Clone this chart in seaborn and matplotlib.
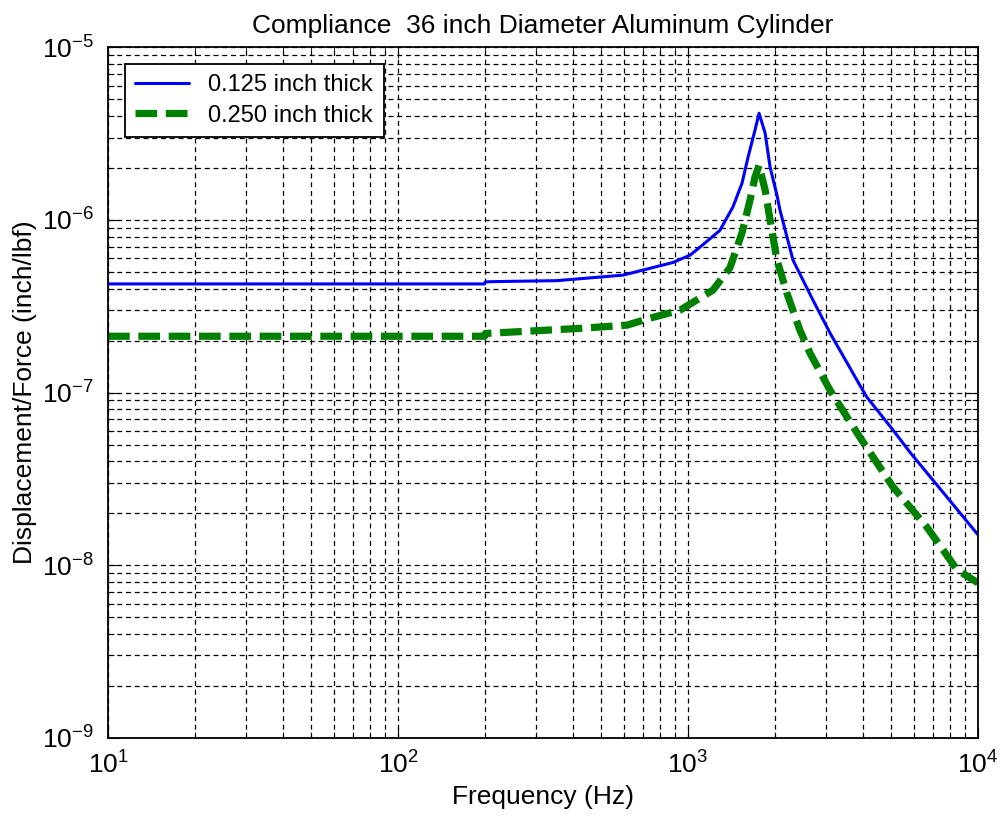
import numpy as np
import pandas as pd
import matplotlib
matplotlib.use("Agg")
import matplotlib.pyplot as plt
import seaborn as sns
from matplotlib.ticker import LogLocator, NullFormatter

# values
freq_thin = [10, 199, 200, 225, 353, 597, 887, 1016, 1099, 1288, 1429, 1535, 1611, 1702,
             1758, 1845, 1919, 2027, 2076, 2302, 2698, 3090, 3917, 4140, 5093,
             5834, 7818, 10000]
comp_thin = [4.26e-7, 4.26e-7, 4.38e-7, 4.4e-7, 4.45e-7, 4.79e-7, 5.67e-7, 6.25e-7, 6.95e-7,
             8.7e-7, 1.19e-6, 1.63e-6, 2.31e-6, 3.31e-6, 4.15e-6, 3.18e-6, 2.02e-6, 1.39e-6,
             1.14e-6, 5.85e-7, 3.43e-7, 2.21e-7, 1.1e-7, 9.4e-8, 6.07e-8,
             4.5e-8, 2.48e-8, 1.5e-8]

freq_thick = [10, 199, 200, 434, 617, 740, 938, 1219, 1396, 1535, 1636, 1702, 1758, 1845,
              1919, 2027, 2193, 2431, 2636, 3090, 3917, 5093, 6668, 8474, 10000]
comp_thick = [2.12e-7, 2.12e-7, 2.2e-7, 2.36e-7, 2.46e-7, 2.7e-7, 3.0e-7, 3.92e-7, 5.3e-7,
              8.4e-7, 1.30e-6, 1.77e-6, 2.07e-6, 1.49e-6, 1.0e-6, 5.85e-7, 3.77e-7, 2.3e-7,
              1.69e-7, 1.03e-7, 5.5e-8, 2.84e-8, 1.66e-8, 9.4e-9, 7.9e-9]

series = ["0.125 inch thick", "0.250 inch thick"]
xticks = [1e1, 1e2, 1e3, 1e4]
yticks = [1e-9, 1e-8, 1e-7, 1e-6, 1e-5]

df = pd.concat([
    pd.DataFrame({"freq": freq_thin, "comp": comp_thin, "series": series[0]}),
    pd.DataFrame({"freq": freq_thick, "comp": comp_thick, "series": series[1]}),
])

sns.set_style("ticks")
plt.rcParams['font.family'] = ['Liberation Sans', 'DejaVu Sans']
plt.rcParams['mathtext.fontset'] = 'custom'
plt.rcParams['mathtext.rm'] = 'Liberation Sans'
plt.rcParams['mathtext.it'] = 'Liberation Sans'
plt.rcParams['text.color'] = 'black'
plt.rcParams['axes.labelcolor'] = 'black'
plt.rcParams['xtick.color'] = 'black'
plt.rcParams['ytick.color'] = 'black'

fig = plt.figure(figsize=(10, 8.3), dpi=100)
ax = fig.add_axes([0.108, 0.111, 0.870, 0.832])

sns.lineplot(data=df, x="freq", y="comp", hue="series", style="series",
             palette={series[0]: "#0000ff", series[1]: "#008000"},
             dashes={series[0]: "", series[1]: (3, 1.2)},
             size="series", sizes={series[0]: 2.2, series[1]: 5.2},
             estimator=None, sort=False, ax=ax)

ax.set_xscale("log")
ax.set_yscale("log")
ax.set_xticks(xticks)
ax.set_yticks(yticks)
ax.set_xlim(10, 1e4)
ax.set_ylim(1e-9, 1e-5)

ax.xaxis.set_minor_locator(LogLocator(base=10, subs=np.arange(2, 10)))
ax.yaxis.set_minor_locator(LogLocator(base=10, subs=np.arange(2, 10)))
ax.xaxis.set_minor_formatter(NullFormatter())
ax.yaxis.set_minor_formatter(NullFormatter())

ax.grid(True, which="both", color="black", linestyle=(0, (4, 3)), linewidth=0.9)
ax.tick_params(which="both", direction="in", top=True, right=True, color="black")
ax.tick_params(which="major", length=8, labelsize=19, pad=10)
ax.tick_params(which="minor", length=4)
for s in ax.spines.values():
    s.set_color("black")
    s.set_linewidth(1.3)

ax.set_title("Compliance  36 inch Diameter Aluminum Cylinder", fontsize=19, pad=10)
ax.set_xlabel("Frequency (Hz)", fontsize=19)
ax.set_ylabel("Displacement/Force (inch/lbf)", fontsize=19)

leg = ax.legend(loc="upper left", fontsize=17, frameon=True, fancybox=False,
                framealpha=1, edgecolor="black", handlelength=2.3,
                borderaxespad=0.7, borderpad=0.45, labelspacing=0.35)
leg.get_frame().set_linewidth(1.3)

plt.savefig("out.png", dpi=100)
